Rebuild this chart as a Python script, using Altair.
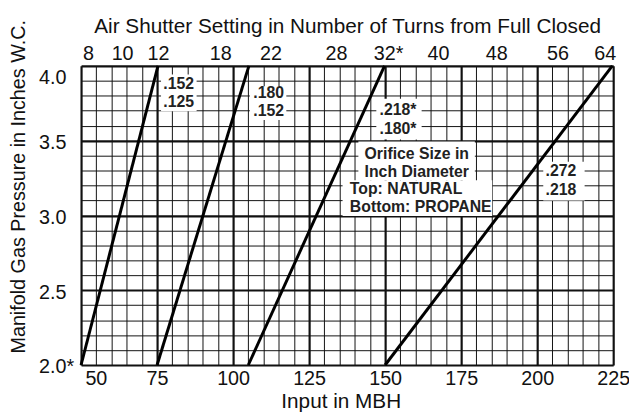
import altair as alt
import pandas as pd

# ---- data ----
line_names = ["A", "B", "C", "D"]
input_at_low = [50, 75, 105, 150]            # MBH where each line meets 2.0 in. W.C.
input_at_high = [75.3, 105.2, 149.8, 224.7]  # MBH where each line meets 4.0 in. W.C.
pressure_low = [2.0, 2.0, 2.0, 2.0]
pressure_high = [4.0, 4.0, 4.0, 4.0]

x_label_values = [50, 75, 100, 125, 150, 175, 200, 225]
x_grid_values = [50, 55, 60, 65, 70, 75, 80, 85, 90, 95, 100, 105, 110, 115, 120, 125,
                 130, 135, 140, 145, 150, 155, 160, 165, 170, 175, 180, 185, 190, 195,
                 200, 205, 210, 215, 220, 225]
y_label_values = [2.0, 2.5, 3.0, 3.5, 4.0]
y_label_texts = ["2.0*", "2.5", "3.0", "3.5", "4.0"]
y_grid_values = [2.0, 2.1, 2.2, 2.3, 2.4, 2.5, 2.6, 2.7, 2.8, 2.9, 3.0,
                 3.1, 3.2, 3.3, 3.4, 3.5, 3.6, 3.7, 3.8, 3.9, 4.0]

top_label_texts = ["8", "10", "12", "18", "22", "28", "32*", "40", "48", "56", "64"]
top_label_values = [52.3, 63.5, 75.3, 95.8, 112.3, 133.8, 151.0, 167.4, 186.5, 206.7, 222.2]

note_texts = [".152", ".125", ".180", ".152", ".218*", ".180*",
              "Orifice Size in", "Inch Diameter", ".272", ".218"]
note_x = [82.1, 82.1, 111.7, 111.7, 154.2, 154.2, 160.4, 160.4, 207.8, 207.8]
note_y = [3.880, 3.761, 3.816, 3.696, 3.702, 3.579, 3.411, 3.291, 3.294, 3.168]

key_texts = ["Top: NATURAL", "Bottom: PROPANE"]
key_x = [138.4, 138.4]
key_y = [3.175, 3.055]

box_x0 = [76.3, 105.5, 147.1, 141.2, 136.0, 202.0]
box_x1 = [88.0, 117.5, 162.0, 179.5, 185.2, 215.6]
box_y0 = [3.696, 3.638, 3.508, 3.236, 2.997, 3.100]
box_y1 = [3.942, 3.864, 3.780, 3.495, 3.236, 3.359]

FONT = "Liberation Sans"

lines_df = pd.DataFrame({"name": line_names, "x0": input_at_low, "x1": input_at_high,
                         "y0": pressure_low, "y1": pressure_high})
boxes_df = pd.DataFrame({"x0": box_x0, "x1": box_x1, "y0": box_y0, "y1": box_y1})
notes_df = pd.DataFrame({"t": note_texts, "x0": note_x, "y0": note_y})
keys_df = pd.DataFrame({"t": key_texts, "x0": key_x, "y0": key_y})
top_df = pd.DataFrame({"xt": top_label_values, "lab": top_label_texts})

xs = alt.Scale(domain=[50, 225], nice=False, zero=False)
ys = alt.Scale(domain=[2.0, 4.0], nice=False, zero=False)

x_thick = f"indexof({x_label_values}, datum.value) >= 0"
y_thick = f"indexof({y_label_values}, datum.value) >= 0"

x_axis = alt.Axis(
    values=x_grid_values, tickCount=500, grid=True, ticks=False, domain=False,
    format="d",
    labelExpr=f"{x_thick} ? datum.label : ''",
    labelFlush=False, labelOverlap=False, labelBound=False,
    labelOffset={"condition": {"test": "datum.value == 50", "value": 15},
                 "value": 0},
    labelFontSize=20, labelColor="#111", labelPadding=4, labelFont=FONT,
    gridColor="#111", gridOpacity=1,
    gridWidth={"condition": {"test": x_thick, "value": 2.2}, "value": 1},
    title="Input in MBH", titleFontSize=21, titleFontWeight="normal", titleColor="#111",
    titleFont=FONT, titlePadding=2, titleX=263,
)
y_axis = alt.Axis(
    values=y_grid_values, tickCount=500, grid=True, ticks=False, domain=False,
    labelExpr=f"{y_thick} ? {y_label_texts}[indexof({y_label_values}, datum.value)] : ''",
    labelOverlap=False, labelBound=False, labelFlush=False,
    labelAlign="left", labelPadding=43,
    labelBaseline={"condition": {"test": "datum.value == 4", "value": "top"}, "value": "middle"},
    labelOffset=2,
    labelFontSize=20, labelColor="#111", labelFont=FONT,
    gridColor="#111", gridOpacity=1,
    gridWidth={"condition": {"test": y_thick, "value": 2.2}, "value": 1},
    title="Manifold Gas Pressure in Inches W.C.", titleFontSize=20, titleFontWeight="normal",
    titleColor="#111", titleFont=FONT, titleX=-53, titleY=122,
)
top_axis = alt.Axis(
    orient="top", values=top_label_values, tickCount=500, grid=False, ticks=False, domain=False,
    labelExpr=f"{top_label_texts}[indexof({top_label_values}, datum.value)]",
    labelFlush=False, labelOverlap=False, labelBound=False,
    labelFontSize=20, labelColor="#111", labelPadding=2, labelFont=FONT,
    title="Air Shutter Setting in Number of Turns from Full Closed", titleFontSize=21,
    titleFontWeight="normal", titleColor="#111", titleFont=FONT, titlePadding=8,
)

lines = alt.Chart(lines_df).mark_rule(color="black", strokeWidth=3).encode(
    x=alt.X("x0:Q", scale=xs, axis=x_axis), x2="x1:Q",
    y=alt.Y("y0:Q", scale=ys, axis=y_axis), y2="y1:Q",
)
top = alt.Chart(top_df).mark_point(opacity=0).encode(
    x=alt.X("xt:Q", scale=xs, axis=top_axis),
    y=alt.value(0),
)
boxes = alt.Chart(boxes_df).mark_rect(fill="white", stroke=None).encode(
    x=alt.X("x0:Q", scale=xs, axis=None), x2="x1:Q",
    y=alt.Y("y0:Q", scale=ys), y2="y1:Q",
)
notes = alt.Chart(notes_df).mark_text(
    font=FONT, fontSize=16, fontWeight="bold", color="#222", align="center", baseline="middle"
).encode(
    x=alt.X("x0:Q", scale=xs, axis=None), y=alt.Y("y0:Q", scale=ys), text="t:N",
)
keys = alt.Chart(keys_df).mark_text(
    font=FONT, fontSize=16, fontWeight="bold", color="#222", align="left", baseline="middle"
).encode(
    x=alt.X("x0:Q", scale=xs, axis=None), y=alt.Y("y0:Q", scale=ys), text="t:N",
)

chart = alt.layer(lines, boxes, notes, keys, top).resolve_axis(x="independent").properties(
    width=539, height=303,
    autosize=alt.AutoSizeParams(type="none"),
    padding={"left": 74, "top": 56, "right": 16, "bottom": 45},
).configure_view(stroke="black", strokeWidth=3).configure(font=FONT)

chart.save("out.html", embed_options={"renderer": "svg", "actions": False})
